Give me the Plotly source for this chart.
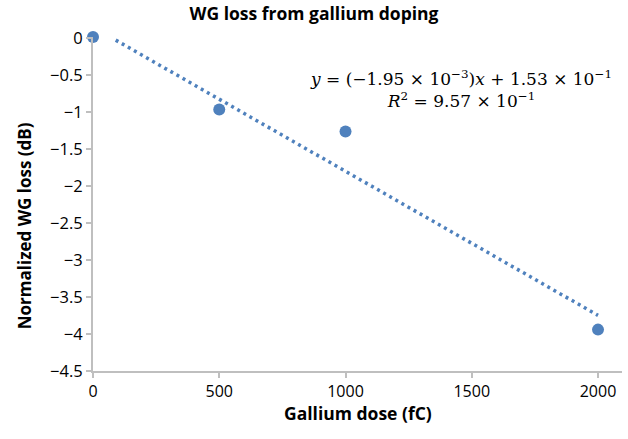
import plotly.graph_objects as go

dose = [0, 500, 1000, 2000]
loss = [0.02, -0.96, -1.26, -3.94]
slope = -1.95e-3
intercept = 1.53e-1
trend_x = [90, 2000]
trend_y = [slope * x + intercept for x in trend_x]
x_ticks = [0, 500, 1000, 1500, 2000]
y_ticks = [0, -0.5, -1, -1.5, -2, -2.5, -3, -3.5, -4, -4.5]

blue = "#4F81BD"
axis_col = "#BFBFBF"
font_main = "Open Sans"

fig = go.Figure()
fig.add_trace(go.Scatter(x=trend_x, y=trend_y, mode="lines",
                         line=dict(color=blue, width=3.5, dash="3px,4px"),
                         hoverinfo="skip", showlegend=False))
fig.add_trace(go.Scatter(x=dose, y=loss, mode="markers",
                         marker=dict(color=blue, size=12),
                         cliponaxis=False, showlegend=False))

fig.update_layout(
    width=628, height=439,
    margin=dict(l=93, r=6, t=37, b=68),
    paper_bgcolor="white", plot_bgcolor="white",
    font=dict(family=font_main, color="#000000", size=16),
    title=dict(text="<b>WG loss from gallium doping</b>", x=0.5, xanchor="center",
               y=0.968, yanchor="middle", font=dict(size=17.5, family=font_main)),
    xaxis=dict(range=[0, 2095], tickvals=x_ticks, showgrid=False, zeroline=False,
               showline=True, linecolor=axis_col, linewidth=2,
               ticks="outside", tickcolor=axis_col, ticklen=5, tickwidth=2,
               tickfont=dict(size=16)),
    yaxis=dict(range=[-4.5, 0.02], tickvals=y_ticks, showgrid=False, zeroline=False,
               showline=True, linecolor=axis_col, linewidth=2,
               ticks="outside", tickcolor=axis_col, ticklen=5, tickwidth=2,
               tickfont=dict(size=16.5)),
)

fig.add_annotation(
    x=0.5, y=-0.125, xref="paper", yref="paper", xanchor="center", yanchor="middle",
    showarrow=False, text="<b>Gallium dose (fC)</b>",
    font=dict(family=font_main, size=17.5, color="#000000"),
)
fig.add_annotation(
    x=-0.130, y=0.434, xref="paper", yref="paper", xanchor="center", yanchor="middle",
    showarrow=False, textangle=-90, text="<b>Normalized WG loss (dB)</b>",
    font=dict(family=font_main, size=17, color="#000000"),
)
fig.add_annotation(
    x=0.696, y=0.843, xref="paper", yref="paper", xanchor="center", yanchor="middle",
    showarrow=False, align="center",
    text=("<i>y</i> = (−1.95 × 10<sup>−3</sup>)<i>x</i> + 1.53 × 10<sup>−1</sup><br>"
          "<i>R</i><sup>2</sup> = 9.57 × 10<sup>−1</sup>"),
    font=dict(family="DejaVu Serif", size=17, color="#000000"),
)

fig.write_html("out.html",
               config={"displayModeBar": False},
               post_script="document.body.style.margin='0px';document.body.style.overflow='hidden';")
